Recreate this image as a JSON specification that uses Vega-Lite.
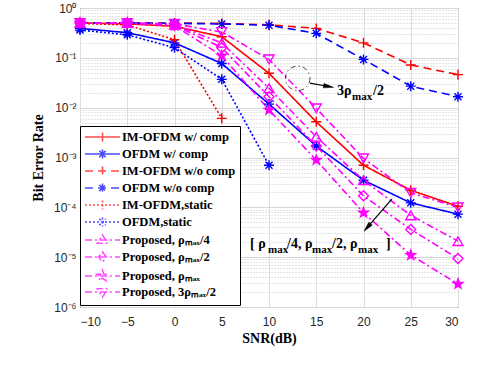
{
  "$schema": "https://vega.github.io/schema/vega-lite/v6.json",
  "autosize": "none",
  "width": 378,
  "height": 299,
  "padding": {"left": 80, "top": 8, "right": 30, "bottom": 61},
  "background": "white",
  "config": {
    "view": {"stroke": "black", "strokeWidth": 1},
    "axis": {"domain": false, "ticks": false, "labelFont": "Liberation Sans", "labelFontSize": 12, "labelColor": "#262626", "titleFont": "Liberation Serif", "titleFontWeight": "bold", "titleFontSize": 14, "titleColor": "black"},
    "legend": {"orient": "none", "legendX": 0, "legendY": 118, "strokeColor": "black", "fillColor": "white", "padding": 4, "symbolSize": 144, "symbolStrokeWidth": 1.6, "labelFont": "Liberation Serif", "labelFontWeight": "bold", "labelFontSize": 12.5, "labelColor": "black", "labelOffset": 24, "rowPadding": 1, "labelLimit": 300, "cornerRadius": 0}
  },
  "data": {"values": [
    {"series": "IM-OFDM w/ comp", "snr": -10, "ber": 0.5},
    {"series": "IM-OFDM w/ comp", "snr": -5, "ber": 0.48},
    {"series": "IM-OFDM w/ comp", "snr": 0, "ber": 0.43},
    {"series": "IM-OFDM w/ comp", "snr": 5, "ber": 0.265},
    {"series": "IM-OFDM w/ comp", "snr": 10, "ber": 0.049},
    {"series": "IM-OFDM w/ comp", "snr": 15, "ber": 0.0052},
    {"series": "IM-OFDM w/ comp", "snr": 20, "ber": 0.0007},
    {"series": "IM-OFDM w/ comp", "snr": 25, "ber": 0.00022},
    {"series": "IM-OFDM w/ comp", "snr": 30, "ber": 0.000105},
    {"series": "OFDM w/ comp", "snr": -10, "ber": 0.39},
    {"series": "OFDM w/ comp", "snr": -5, "ber": 0.32},
    {"series": "OFDM w/ comp", "snr": 0, "ber": 0.2},
    {"series": "OFDM w/ comp", "snr": 5, "ber": 0.077},
    {"series": "OFDM w/ comp", "snr": 10, "ber": 0.0118},
    {"series": "OFDM w/ comp", "snr": 15, "ber": 0.0017},
    {"series": "OFDM w/ comp", "snr": 20, "ber": 0.00035},
    {"series": "OFDM w/ comp", "snr": 25, "ber": 0.000123},
    {"series": "OFDM w/ comp", "snr": 30, "ber": 0.000073},
    {"series": "IM-OFDM w/o comp", "snr": -10, "ber": 0.5},
    {"series": "IM-OFDM w/o comp", "snr": -5, "ber": 0.5},
    {"series": "IM-OFDM w/o comp", "snr": 0, "ber": 0.5},
    {"series": "IM-OFDM w/o comp", "snr": 5, "ber": 0.49},
    {"series": "IM-OFDM w/o comp", "snr": 10, "ber": 0.46},
    {"series": "IM-OFDM w/o comp", "snr": 15, "ber": 0.39},
    {"series": "IM-OFDM w/o comp", "snr": 20, "ber": 0.2},
    {"series": "IM-OFDM w/o comp", "snr": 25, "ber": 0.072},
    {"series": "IM-OFDM w/o comp", "snr": 30, "ber": 0.046},
    {"series": "OFDM w/o comp", "snr": -10, "ber": 0.5},
    {"series": "OFDM w/o comp", "snr": -5, "ber": 0.5},
    {"series": "OFDM w/o comp", "snr": 0, "ber": 0.49},
    {"series": "OFDM w/o comp", "snr": 5, "ber": 0.48},
    {"series": "OFDM w/o comp", "snr": 10, "ber": 0.45},
    {"series": "OFDM w/o comp", "snr": 15, "ber": 0.31},
    {"series": "OFDM w/o comp", "snr": 20, "ber": 0.093},
    {"series": "OFDM w/o comp", "snr": 25, "ber": 0.027},
    {"series": "OFDM w/o comp", "snr": 30, "ber": 0.0166},
    {"series": "IM-OFDM,static", "snr": -10, "ber": 0.49},
    {"series": "IM-OFDM,static", "snr": -5, "ber": 0.46},
    {"series": "IM-OFDM,static", "snr": 0, "ber": 0.23},
    {"series": "IM-OFDM,static", "snr": 5, "ber": 0.0061},
    {"series": "OFDM,static", "snr": -10, "ber": 0.36},
    {"series": "OFDM,static", "snr": -5, "ber": 0.29},
    {"series": "OFDM,static", "snr": 0, "ber": 0.16},
    {"series": "OFDM,static", "snr": 5, "ber": 0.037},
    {"series": "OFDM,static", "snr": 10, "ber": 0.0007},
    {"series": "Proposed, ρₘₐₓ/4", "snr": -10, "ber": 0.5},
    {"series": "Proposed, ρₘₐₓ/4", "snr": -5, "ber": 0.5},
    {"series": "Proposed, ρₘₐₓ/4", "snr": 0, "ber": 0.46},
    {"series": "Proposed, ρₘₐₓ/4", "snr": 5, "ber": 0.2},
    {"series": "Proposed, ρₘₐₓ/4", "snr": 10, "ber": 0.0245},
    {"series": "Proposed, ρₘₐₓ/4", "snr": 15, "ber": 0.0026},
    {"series": "Proposed, ρₘₐₓ/4", "snr": 20, "ber": 0.00035},
    {"series": "Proposed, ρₘₐₓ/4", "snr": 25, "ber": 0.000069},
    {"series": "Proposed, ρₘₐₓ/4", "snr": 30, "ber": 0.000021},
    {"series": "Proposed, ρₘₐₓ/2", "snr": -10, "ber": 0.5},
    {"series": "Proposed, ρₘₐₓ/2", "snr": -5, "ber": 0.5},
    {"series": "Proposed, ρₘₐₓ/2", "snr": 0, "ber": 0.45},
    {"series": "Proposed, ρₘₐₓ/2", "snr": 5, "ber": 0.16},
    {"series": "Proposed, ρₘₐₓ/2", "snr": 10, "ber": 0.0166},
    {"series": "Proposed, ρₘₐₓ/2", "snr": 15, "ber": 0.0017},
    {"series": "Proposed, ρₘₐₓ/2", "snr": 20, "ber": 0.00017},
    {"series": "Proposed, ρₘₐₓ/2", "snr": 25, "ber": 0.000036},
    {"series": "Proposed, ρₘₐₓ/2", "snr": 30, "ber": 0.0000094},
    {"series": "Proposed, ρₘₐₓ", "snr": -10, "ber": 0.5},
    {"series": "Proposed, ρₘₐₓ", "snr": -5, "ber": 0.5},
    {"series": "Proposed, ρₘₐₓ", "snr": 0, "ber": 0.44},
    {"series": "Proposed, ρₘₐₓ", "snr": 5, "ber": 0.11},
    {"series": "Proposed, ρₘₐₓ", "snr": 10, "ber": 0.009},
    {"series": "Proposed, ρₘₐₓ", "snr": 15, "ber": 0.00089},
    {"series": "Proposed, ρₘₐₓ", "snr": 20, "ber": 0.000078},
    {"series": "Proposed, ρₘₐₓ", "snr": 25, "ber": 0.000011},
    {"series": "Proposed, ρₘₐₓ", "snr": 30, "ber": 0.0000029},
    {"series": "Proposed, 3ρₘₐₓ/2", "snr": -10, "ber": 0.5},
    {"series": "Proposed, 3ρₘₐₓ/2", "snr": -5, "ber": 0.5},
    {"series": "Proposed, 3ρₘₐₓ/2", "snr": 0, "ber": 0.48},
    {"series": "Proposed, 3ρₘₐₓ/2", "snr": 5, "ber": 0.33},
    {"series": "Proposed, 3ρₘₐₓ/2", "snr": 10, "ber": 0.093},
    {"series": "Proposed, 3ρₘₐₓ/2", "snr": 15, "ber": 0.0097},
    {"series": "Proposed, 3ρₘₐₓ/2", "snr": 20, "ber": 0.00096},
    {"series": "Proposed, 3ρₘₐₓ/2", "snr": 25, "ber": 0.000195},
    {"series": "Proposed, 3ρₘₐₓ/2", "snr": 30, "ber": 0.0001}
  ]},
  "resolve": {
    "axis": {"x": "independent", "y": "independent"},
    "scale": {"stroke": "independent", "strokeDash": "independent", "shape": "independent", "fill": "independent"},
    "legend": {"stroke": "independent", "strokeDash": "independent", "shape": "independent", "fill": "independent"}
  },
  "layer": [
    {
      "mark": {"type": "line", "strokeWidth": 1.6, "clip": true},
      "encoding": {
        "x": {"field": "snr", "type": "quantitative", "scale": {"domain": [-10, 30], "nice": false}, "axis": {"values": [-10, -5, 0, 5, 10, 15, 20, 25, 30], "grid": true, "gridColor": "#dedede", "labelPadding": 9, "title": "SNR(dB)", "titlePadding": 4}},
        "y": {"field": "ber", "type": "quantitative", "scale": {"type": "log", "domain": [0.000001, 1], "nice": false}, "axis": {"values": [1, 0.1, 0.01, 0.001, 0.0001, 0.00001, 0.000001], "grid": true, "gridColor": "#d6d6d6", "labelPadding": 4, "labelExpr": "'10' + ['⁰','⁻¹','⁻²','⁻³','⁻⁴','⁻⁵','⁻⁶'][round(-log(datum.value)/LN10)]", "title": "Bit Error Rate", "titlePadding": 8}},
        "stroke": {"field": "series", "type": "nominal", "legend": null,
          "scale": {"domain": ["IM-OFDM w/ comp", "OFDM w/ comp", "IM-OFDM w/o comp", "OFDM w/o comp", "IM-OFDM,static", "OFDM,static", "Proposed, ρₘₐₓ/4", "Proposed, ρₘₐₓ/2", "Proposed, ρₘₐₓ", "Proposed, 3ρₘₐₓ/2"], "range": ["#ff0000", "#0000ff", "#ff0000", "#0000ff", "#ff0000", "#0000ff", "#ff00ff", "#ff00ff", "#ff00ff", "#ff00ff"]}},
        "strokeDash": {"field": "series", "type": "nominal", "legend": null,
          "scale": {"domain": ["IM-OFDM w/ comp", "OFDM w/ comp", "IM-OFDM w/o comp", "OFDM w/o comp", "IM-OFDM,static", "OFDM,static", "Proposed, ρₘₐₓ/4", "Proposed, ρₘₐₓ/2", "Proposed, ρₘₐₓ", "Proposed, 3ρₘₐₓ/2"], "range": [[1, 0], [1, 0], [8, 5], [8, 5], [2, 2], [2, 2], [7, 3, 2, 3], [7, 3, 2, 3], [7, 3, 2, 3], [7, 3, 2, 3]]}},
        "order": {"field": "snr", "type": "quantitative"}
      }
    },
    {
      "mark": {"type": "point", "filled": false, "strokeWidth": 1.4, "size": 100, "opacity": 1},
      "encoding": {
        "x": {"field": "snr", "type": "quantitative", "axis": null},
        "y": {"field": "ber", "type": "quantitative", "axis": {"values": [0.000002, 0.000003, 0.000004, 0.000005, 0.000006, 0.000007, 0.000008, 0.000009, 0.00002, 0.00003, 0.00004, 0.00005, 0.00006, 0.00007, 0.00008, 0.00009, 0.0002, 0.0003, 0.0004, 0.0005, 0.0006, 0.0007, 0.0008, 0.0009, 0.002, 0.003, 0.004, 0.005, 0.006, 0.007, 0.008, 0.009, 0.02, 0.03, 0.04, 0.05, 0.06, 0.07, 0.08, 0.09, 0.2, 0.3, 0.4, 0.5, 0.6, 0.7, 0.8, 0.9], "orient": "right", "grid": true, "gridColor": "#bdbdbd", "gridDash": [1, 2], "gridWidth": 0.8, "labels": false, "ticks": false, "domain": false, "title": null}},
        "stroke": {"field": "series", "type": "nominal", "legend": null,
          "scale": {"domain": ["IM-OFDM w/ comp", "OFDM w/ comp", "IM-OFDM w/o comp", "OFDM w/o comp", "IM-OFDM,static", "OFDM,static", "Proposed, ρₘₐₓ/4", "Proposed, ρₘₐₓ/2", "Proposed, ρₘₐₓ", "Proposed, 3ρₘₐₓ/2"], "range": ["#ff0000", "#0000ff", "#ff0000", "#0000ff", "#ff0000", "#0000ff", "#ff00ff", "#ff00ff", "#ff00ff", "#ff00ff"]}},
        "shape": {"field": "series", "type": "nominal", "legend": null,
          "scale": {"domain": ["IM-OFDM w/ comp", "OFDM w/ comp", "IM-OFDM w/o comp", "OFDM w/o comp", "IM-OFDM,static", "OFDM,static", "Proposed, ρₘₐₓ/4", "Proposed, ρₘₐₓ/2", "Proposed, ρₘₐₓ", "Proposed, 3ρₘₐₓ/2"], "range": ["M-1,0H1M0,-1V1", "M-1,0H1M0,-1V1M-0.7,-0.7L0.7,0.7M-0.7,0.7L0.7,-0.7", "M-1,0H1M0,-1V1", "M-1,0H1M0,-1V1M-0.7,-0.7L0.7,0.7M-0.7,0.7L0.7,-0.7", "M-1,0H1M0,-1V1", "M-1,0H1M0,-1V1M-0.7,-0.7L0.7,0.7M-0.7,0.7L0.7,-0.7", "triangle-up", "diamond", "M0,-1L0.235,-0.324L0.951,-0.309L0.38,0.124L0.588,0.809L0,0.4L-0.588,0.809L-0.38,0.124L-0.951,-0.309L-0.235,-0.324Z", "triangle-down"]}},
        "fill": {"field": "series", "type": "nominal", "legend": null,
          "scale": {"domain": ["IM-OFDM w/ comp", "OFDM w/ comp", "IM-OFDM w/o comp", "OFDM w/o comp", "IM-OFDM,static", "OFDM,static", "Proposed, ρₘₐₓ/4", "Proposed, ρₘₐₓ/2", "Proposed, ρₘₐₓ", "Proposed, 3ρₘₐₓ/2"], "range": ["transparent", "transparent", "transparent", "transparent", "transparent", "transparent", "transparent", "transparent", "#ff00ff", "transparent"]}}
      }
    },
    {
      "transform": [{"filter": "false"}],
      "mark": {"type": "point", "filled": false, "strokeWidth": 1.6},
      "encoding": {
        "x": {"field": "snr", "type": "quantitative", "axis": null},
        "y": {"field": "ber", "type": "quantitative", "axis": null},
        "stroke": {"field": "series", "type": "nominal", "title": null,
          "scale": {"domain": ["IM-OFDM w/ comp", "OFDM w/ comp", "IM-OFDM w/o comp", "OFDM w/o comp", "IM-OFDM,static", "OFDM,static", "Proposed, ρₘₐₓ/4", "Proposed, ρₘₐₓ/2", "Proposed, ρₘₐₓ", "Proposed, 3ρₘₐₓ/2"], "range": ["#ff0000", "#0000ff", "#ff0000", "#0000ff", "#ff0000", "#0000ff", "#ff00ff", "#ff00ff", "#ff00ff", "#ff00ff"]}},
        "strokeDash": {"field": "series", "type": "nominal", "title": null,
          "scale": {"domain": ["IM-OFDM w/ comp", "OFDM w/ comp", "IM-OFDM w/o comp", "OFDM w/o comp", "IM-OFDM,static", "OFDM,static", "Proposed, ρₘₐₓ/4", "Proposed, ρₘₐₓ/2", "Proposed, ρₘₐₓ", "Proposed, 3ρₘₐₓ/2"], "range": [[1, 0], [1, 0], [8, 5], [8, 5], [2, 2], [2, 2], [7, 3, 2, 3], [7, 3, 2, 3], [7, 3, 2, 3], [7, 3, 2, 3]]}},
        "shape": {"field": "series", "type": "nominal", "title": null,
          "scale": {"domain": ["IM-OFDM w/ comp", "OFDM w/ comp", "IM-OFDM w/o comp", "OFDM w/o comp", "IM-OFDM,static", "OFDM,static", "Proposed, ρₘₐₓ/4", "Proposed, ρₘₐₓ/2", "Proposed, ρₘₐₓ", "Proposed, 3ρₘₐₓ/2"], "range": ["M-1,0H4.833M1.917,-0.75V0.75", "M-1,0H4.833M1.917,-0.75V0.75M1.387,-0.53L2.447,0.53M1.387,0.53L2.447,-0.53", "M-1,0H4.833M1.917,-0.75V0.75", "M-1,0H4.833M1.917,-0.75V0.75M1.387,-0.53L2.447,0.53M1.387,0.53L2.447,-0.53", "M-1,0H4.833M1.917,-0.75V0.75", "M-1,0H4.833M1.917,-0.75V0.75M1.387,-0.53L2.447,0.53M1.387,0.53L2.447,-0.53", "M-1,0H4.833M1.917,-0.85L2.8,0.55L1.034,0.55Z", "M-1,0H4.833M1.917,-0.85L2.567,0L1.917,0.85L1.267,0Z", "M-1,0H4.833M1.917,-0.95L2.14,-0.307L2.821,-0.294L2.278,0.117L2.475,0.769L1.917,0.38L1.359,0.769L1.556,0.117L1.013,-0.294L1.694,-0.307Z", "M-1,0H4.833M1.917,0.85L2.8,-0.55L1.034,-0.55Z"]}}
      }
    },
    {
      "data": {"values": [{}]},
      "mark": {"type": "point", "shape": "circle", "size": 600, "filled": false, "stroke": "black", "strokeWidth": 1, "strokeDash": [5, 3, 1.5, 3]},
      "encoding": {"x": {"datum": 13.04, "axis": null}, "y": {"datum": 0.0388, "axis": null}}
    },
    {
      "data": {"values": [{}]},
      "mark": {"type": "rule", "stroke": "black", "strokeWidth": 1.2},
      "encoding": {"x": {"datum": 14.34, "axis": null}, "y": {"datum": 0.0312, "axis": null}, "x2": {"datum": 16.3}, "y2": {"datum": 0.0266}}
    },
    {
      "data": {"values": [{}]},
      "mark": {"type": "point", "shape": "M0,-1L0.45,1L-0.45,1Z", "size": 100, "filled": true, "fill": "black", "stroke": "black", "strokeWidth": 0.5, "angle": 100, "opacity": 1},
      "encoding": {"x": {"datum": 16.3, "axis": null}, "y": {"datum": 0.0266, "axis": null}}
    },
    {
      "data": {"values": [{}]},
      "mark": {"type": "rule", "stroke": "black", "strokeWidth": 1.2},
      "encoding": {"x": {"datum": 23.0, "axis": null}, "y": {"datum": 0.000146, "axis": null}, "x2": {"datum": 20.4}, "y2": {"datum": 0.0000395}}
    },
    {
      "data": {"values": [{}]},
      "mark": {"type": "point", "shape": "M0,-1L0.45,1L-0.45,1Z", "size": 100, "filled": true, "fill": "black", "stroke": "black", "strokeWidth": 0.5, "angle": 221, "opacity": 1},
      "encoding": {"x": {"datum": 20.4, "axis": null}, "y": {"datum": 0.0000395, "axis": null}}
    },
    {
      "data": {"values": [{}]},
      "mark": {"type": "text", "align": "left", "baseline": "alphabetic", "font": "Liberation Serif", "fontWeight": "bold", "fontSize": 14, "color": "black"},
      "encoding": {"x": {"datum": 17.2, "axis": null}, "y": {"datum": 0.0179, "axis": null}, "text": {"value": "3ρ"}}
    },
    {
      "data": {"values": [{}]},
      "mark": {"type": "text", "align": "left", "baseline": "alphabetic", "font": "Liberation Serif", "fontWeight": "bold", "fontSize": 11, "color": "black", "dx": 15, "dy": 5},
      "encoding": {"x": {"datum": 17.2, "axis": null}, "y": {"datum": 0.0179, "axis": null}, "text": {"value": "max"}}
    },
    {
      "data": {"values": [{}]},
      "mark": {"type": "text", "align": "left", "baseline": "alphabetic", "font": "Liberation Serif", "fontWeight": "bold", "fontSize": 14, "color": "black", "dx": 36},
      "encoding": {"x": {"datum": 17.2, "axis": null}, "y": {"datum": 0.0179, "axis": null}, "text": {"value": "/2"}}
    },
    {
      "data": {"values": [{}]},
      "mark": {"type": "text", "align": "left", "baseline": "alphabetic", "font": "Liberation Serif", "fontWeight": "bold", "fontSize": 14, "color": "black"},
      "encoding": {"x": {"datum": 8.0, "axis": null}, "y": {"datum": 0.0000152, "axis": null}, "text": {"value": "[ ρ"}}
    },
    {
      "data": {"values": [{}]},
      "mark": {"type": "text", "align": "left", "baseline": "alphabetic", "font": "Liberation Serif", "fontWeight": "bold", "fontSize": 11, "color": "black", "dx": 18, "dy": 5},
      "encoding": {"x": {"datum": 8.0, "axis": null}, "y": {"datum": 0.0000152, "axis": null}, "text": {"value": "max"}}
    },
    {
      "data": {"values": [{}]},
      "mark": {"type": "text", "align": "left", "baseline": "alphabetic", "font": "Liberation Serif", "fontWeight": "bold", "fontSize": 14, "color": "black", "dx": 37},
      "encoding": {"x": {"datum": 8.0, "axis": null}, "y": {"datum": 0.0000152, "axis": null}, "text": {"value": "/4, ρ"}}
    },
    {
      "data": {"values": [{}]},
      "mark": {"type": "text", "align": "left", "baseline": "alphabetic", "font": "Liberation Serif", "fontWeight": "bold", "fontSize": 11, "color": "black", "dx": 62, "dy": 5},
      "encoding": {"x": {"datum": 8.0, "axis": null}, "y": {"datum": 0.0000152, "axis": null}, "text": {"value": "max"}}
    },
    {
      "data": {"values": [{}]},
      "mark": {"type": "text", "align": "left", "baseline": "alphabetic", "font": "Liberation Serif", "fontWeight": "bold", "fontSize": 14, "color": "black", "dx": 82},
      "encoding": {"x": {"datum": 8.0, "axis": null}, "y": {"datum": 0.0000152, "axis": null}, "text": {"value": "/2, ρ"}}
    },
    {
      "data": {"values": [{}]},
      "mark": {"type": "text", "align": "left", "baseline": "alphabetic", "font": "Liberation Serif", "fontWeight": "bold", "fontSize": 11, "color": "black", "dx": 108, "dy": 5},
      "encoding": {"x": {"datum": 8.0, "axis": null}, "y": {"datum": 0.0000152, "axis": null}, "text": {"value": "max"}}
    },
    {
      "data": {"values": [{}]},
      "mark": {"type": "text", "align": "left", "baseline": "alphabetic", "font": "Liberation Serif", "fontWeight": "bold", "fontSize": 14, "color": "black", "dx": 136},
      "encoding": {"x": {"datum": 8.0, "axis": null}, "y": {"datum": 0.0000152, "axis": null}, "text": {"value": "]"}}
    }
  ]
}
